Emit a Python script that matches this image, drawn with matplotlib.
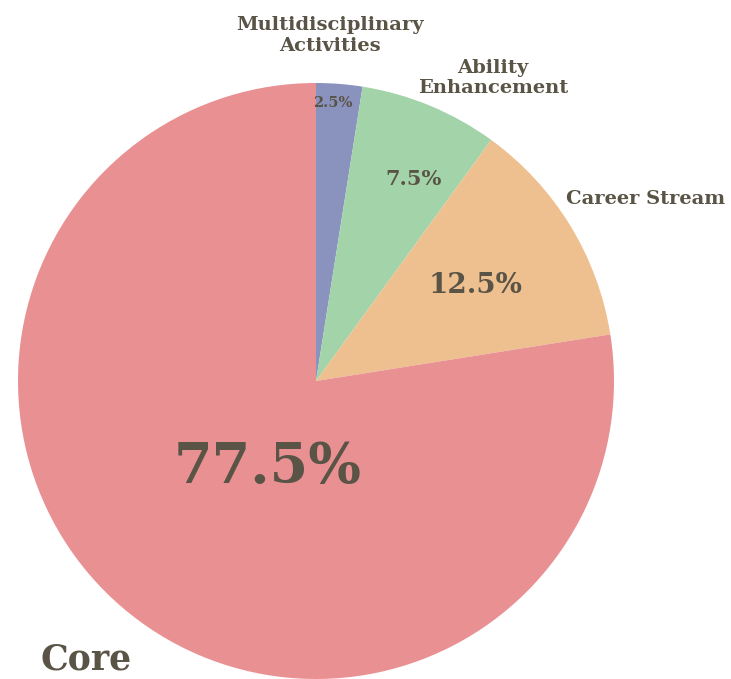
import matplotlib.pyplot as plt

# Slice data, clockwise from 12 o'clock
labels = ['Multidisciplinary\nActivities', 'Ability\nEnhancement', 'Career Stream', 'Core']
shares = [2.5, 7.5, 12.5, 77.5]
colors = ['#8a93be', '#a3d3a8', '#eec08f', '#e99093']

text_color = '#5a5446'
plt.rcParams['font.family'] = ['DejaVu Serif']
plt.rcParams['font.weight'] = 'bold'

fig = plt.figure(figsize=(7.31, 6.79), dpi=100)
ax = fig.add_axes([0, 0, 1, 1])

ax.pie(shares, colors=colors, startangle=90, counterclock=False,
       radius=1, center=(0, 0), wedgeprops=dict(linewidth=0))

# keep 298 px per data unit, pie centre at (316, 381) px
ax.set_xlim(-316 / 298, (731 - 316) / 298)
ax.set_ylim(-298 / 298, (679 - 298) / 298)
ax.set_aspect('equal')
ax.axis('off')

# percentage labels inside slices
pct_pos = [(0.057, 0.933), (0.326, 0.678), (0.534, 0.322), (-0.161, -0.289)]
pct_size = [10.5, 15, 20, 40]
for s, (x, y), fs in zip(shares, pct_pos, pct_size):
    ax.text(x, y, f'{s}%', ha='center', va='center', fontsize=fs,
            color=text_color, fontweight='bold')

# category labels
name_pos = [(0.047, 1.160), (0.594, 1.017), (1.107, 0.611), (-0.772, -0.935)]
name_size = [14, 14, 14, 25]
for name, (x, y), fs in zip(labels, name_pos, name_size):
    ax.text(x, y, name, ha='center', va='center', fontsize=fs,
            color=text_color, fontweight='bold', linespacing=1.2)

fig.savefig('out.png', dpi=100)
